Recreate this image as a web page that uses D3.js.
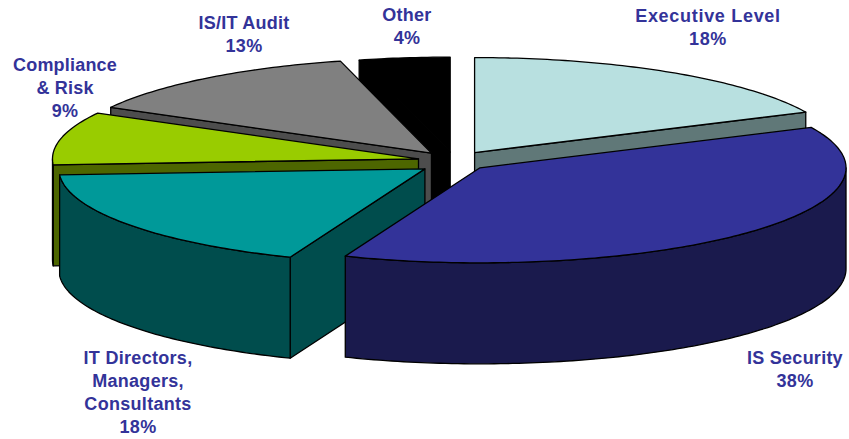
<!DOCTYPE html>
<html><head><meta charset="utf-8">
<script src="https://cdnjs.cloudflare.com/ajax/libs/d3/7.8.5/d3.min.js"></script>
<style>html,body{margin:0;padding:0;background:#fff;overflow:hidden}svg{display:block}</style>
</head><body><svg id="c" width="849" height="439"></svg>
<script>
const categories = ["Executive Level","IS Security","IT Directors, Managers, Consultants","Compliance & Risk","IS/IT Audit","Other"];
const shares = [18,38,18,9,13,4];
const labelLines = [["Executive Level","18%"],["IS Security","38%"],["IT Directors,","Managers,","Consultants","18%"],["Compliance","& Risk","9%"],["IS/IT Audit","13%"],["Other","4%"]];
const topColors = ["#B8E0E0","#333399","#009999","#99CC00","#808080","#000000"];
const sideColors = ["#607878","#1A1A4D","#004D4D","#4D6600","#4D4D4D","#000000"];
const labelAnchors = [[708,15],[795,357],[138,357],[65,64],[244,22],[407,14]];
const labelSpacing = [0.7,0.25,0.3,0.2,0.25,0.25];
const nudges = [[-2,0],[-4,0],[0,2],[0,0],[-1,0],[-1,1]];

const W=849,H=439,cx=456,cy=161,rx=366,ry=95,depth=101,explode=0.105;
const svg=d3.select("#c");
const xS=d3.scaleLinear().domain([-1,1]).range([-rx,rx]);
const yS=d3.scaleLinear().domain([-1,1]).range([-ry,ry]);
const arcs=d3.pie().sort(null).value(d=>d)(shares);
const slices=arcs.map((a,i)=>{
  const m=(a.startAngle+a.endAngle)/2;
  return {i,a0:a.startAngle,a1:a.endAngle,
    ax:cx+xS(explode*Math.sin(m))+nudges[i][0],
    ay:cy+yS(-explode*Math.cos(m))+nudges[i][1]};
});
const rim=(s,t)=>[s.ax+xS(Math.sin(t)),s.ay+yS(-Math.cos(t))];
const sample=(s,a,b)=>{const n=Math.max(2,Math.ceil(Math.abs(b-a)*60));return d3.range(n+1).map(k=>rim(s,a+(b-a)*k/n));};
const line=d3.line();
const down=p=>[p[0],p[1]+depth];
function poly(g,pts,fill){
  g.append("path").attr("d",line(pts)+"Z").attr("fill",fill)
   .attr("stroke","#000").attr("stroke-width",1.3).attr("stroke-linejoin","round");
}
const order=[0,5,4,3,2,1];
order.forEach(i=>{
  const s=slices[i],g=svg.append("g"),side=sideColors[i],A=[s.ax,s.ay];
  // a cut face shows when its outward normal in the pie plane points toward the viewer
  [[s.a0,1],[s.a1,-1]].forEach(([t,dir])=>{
    if(dir*Math.sin(t)<-1e-6){const R=rim(s,t);poly(g,[A,R,down(R),down(A)],side);}
  });
  // outer wall: the part of the rim between 90 and 270 degrees faces the viewer
  const lo=Math.max(s.a0,Math.PI/2),hi=Math.min(s.a1,Math.PI*1.5);
  if(hi>lo){const top=sample(s,lo,hi);poly(g,top.concat(top.map(down).reverse()),side);}
  poly(g,[A].concat(sample(s,s.a0,s.a1)),topColors[i]);
});
labelLines.forEach((ls,i)=>{
  const t=svg.append("text").attr("text-anchor","middle")
    .attr("font-family","'Liberation Sans',Arial,sans-serif").attr("font-weight","bold")
    .attr("font-size",18).attr("letter-spacing",labelSpacing[i]).attr("fill","#333399");
  ls.forEach((l,k)=>t.append("tspan").attr("x",labelAnchors[i][0]).attr("y",labelAnchors[i][1]+k*23.3+6.5).text(l));
});
</script></body></html>
